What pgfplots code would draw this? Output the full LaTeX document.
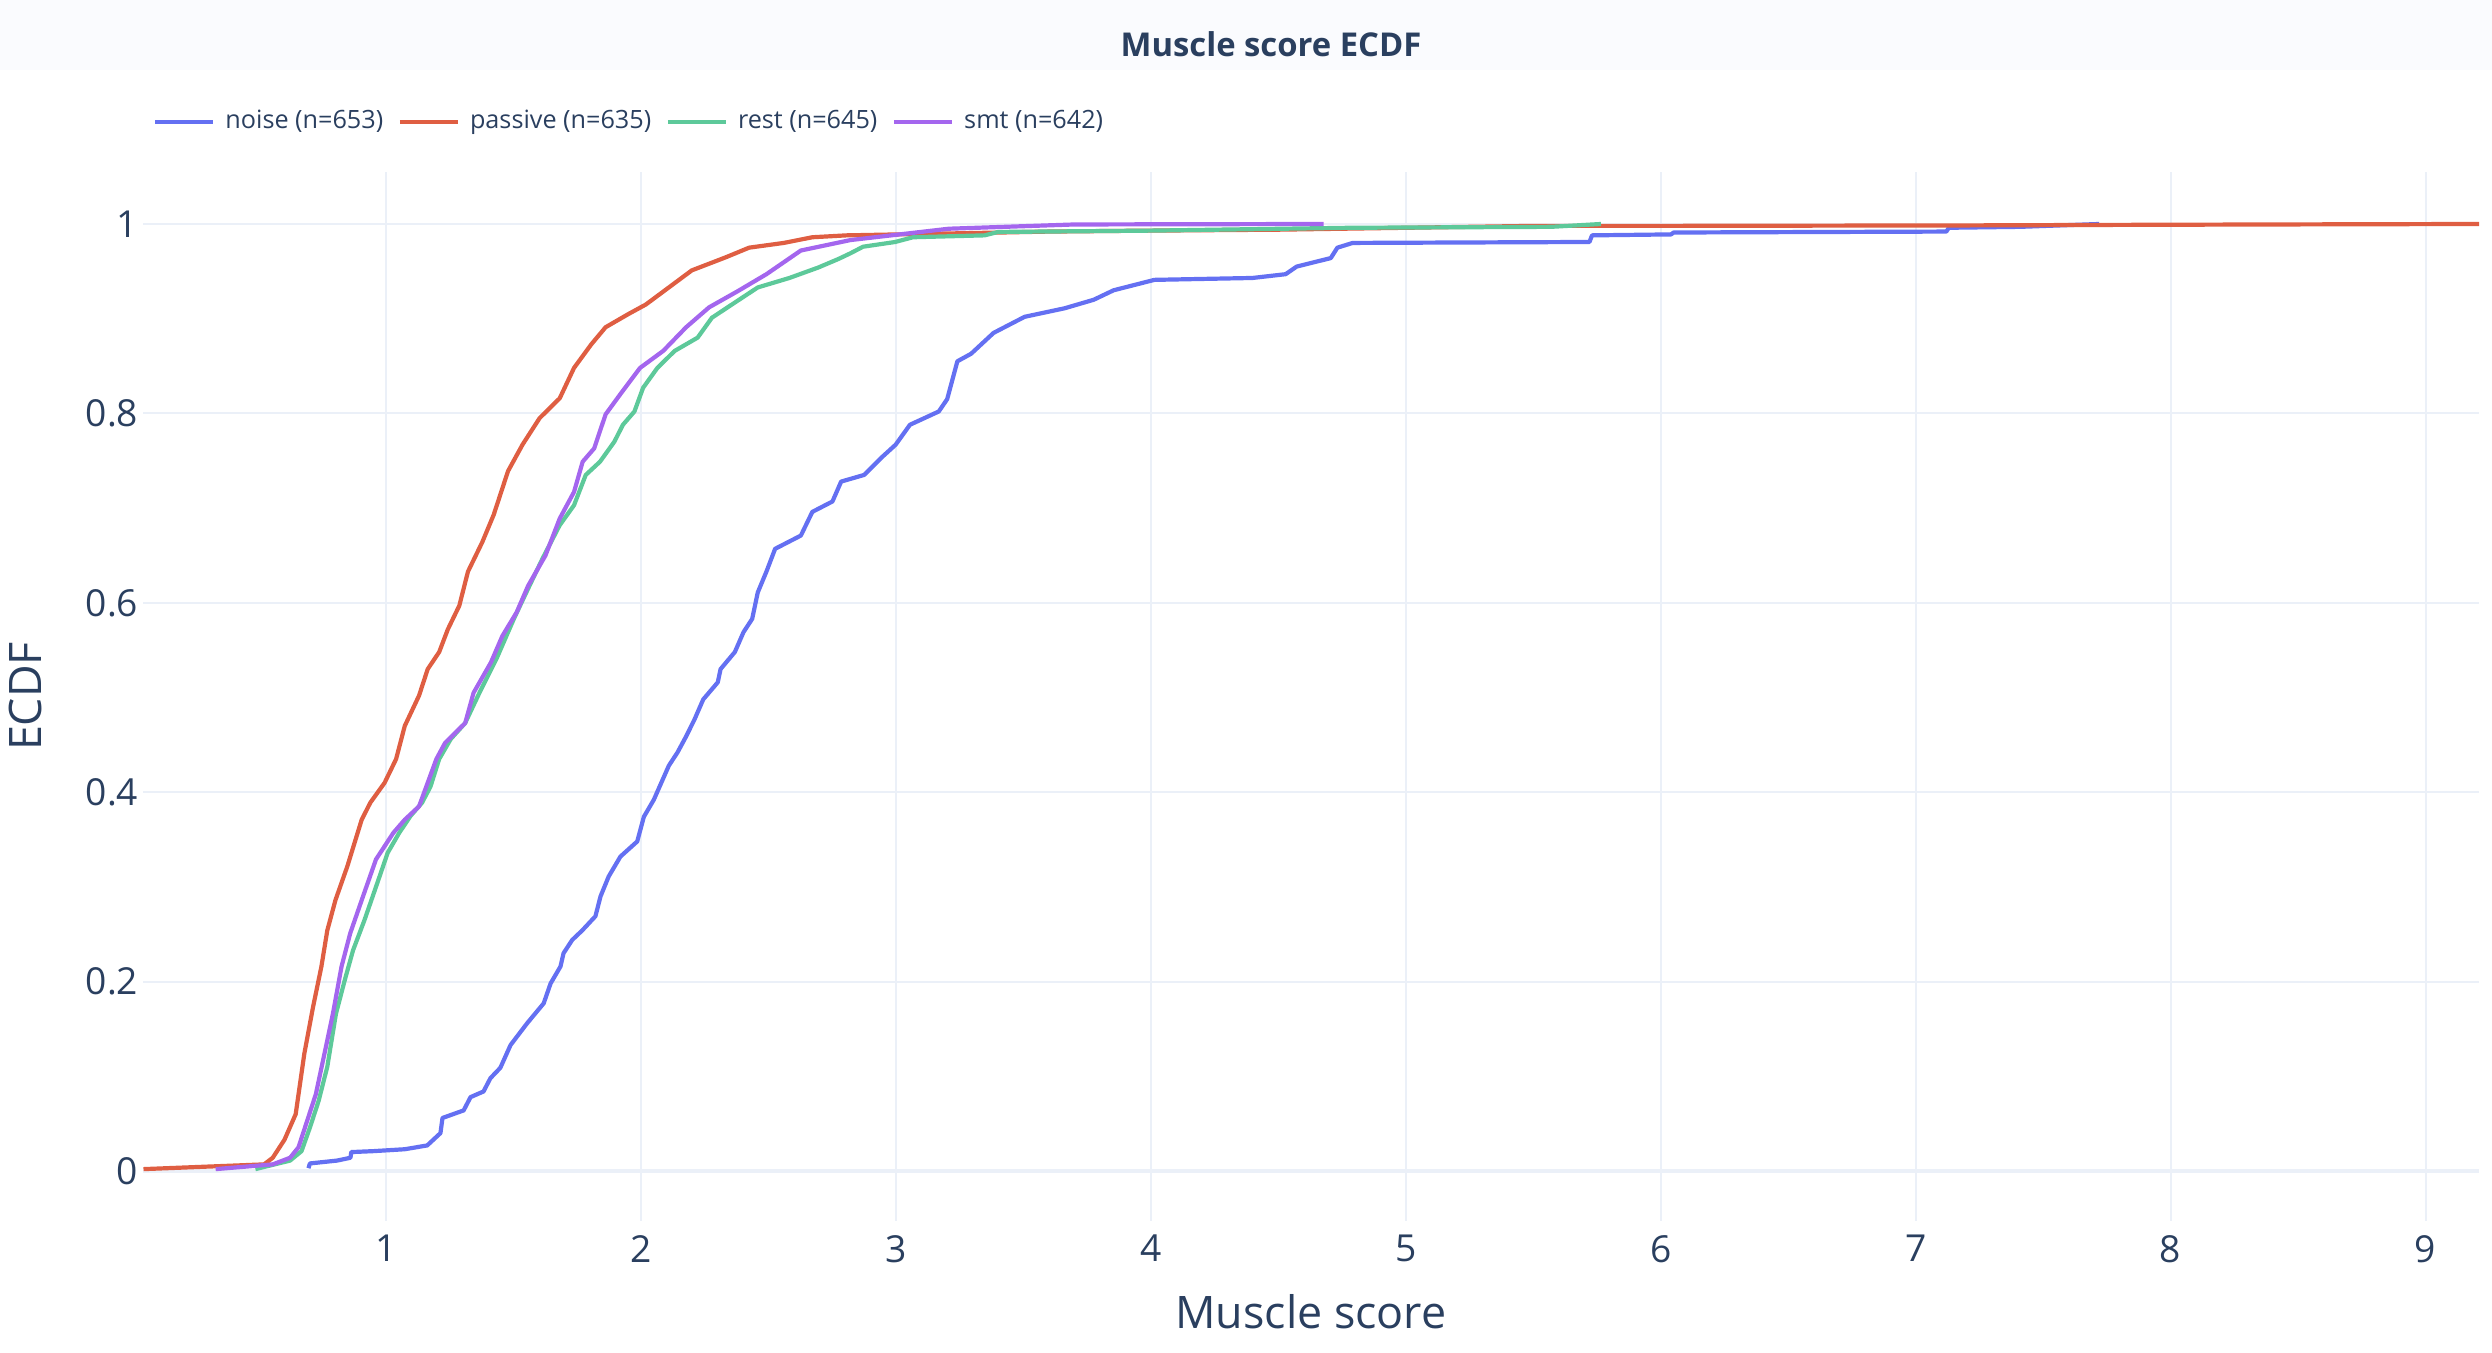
\documentclass[border=0pt]{standalone}
\usepackage{fontspec}
\setmainfont{Open Sans}
\usepackage{pgfplots}
\pgfplotsset{compat=1.18}
\definecolor{txt}{HTML}{2A3F5F}
\definecolor{grd}{HTML}{EBF0F8}
\definecolor{cnoise}{HTML}{6470F2}
\definecolor{cpassive}{HTML}{DF5E42}
\definecolor{crest}{HTML}{5DC99A}
\definecolor{csmt}{HTML}{A466EE}
\definecolor{band}{HTML}{FAFBFE}
\begin{document}
\begin{tikzpicture}
\path[use as bounding box] (0pt,0pt) rectangle (623pt,338pt);
\fill[band] (0pt,320.5pt) rectangle (623pt,338pt);
\node[font=\bfseries\fontsize{8.2}{9}\selectfont, text=txt] at (317.75pt,327pt) {Muscle score ECDF};
\begin{axis}[
  at={(35.75pt,32.75pt)}, anchor=south west, scale only axis,
  width=584pt, height=262.25pt,
  xmin=0.045, xmax=9.21, ymin=-0.0528, ymax=1.0549,
  xtick={1,2,3,4,5,6,7,8,9},
  ytick={0,0.2,0.4,0.6,0.8,1},
  yticklabels={0,0.2,0.4,0.6,0.8,1},
  axis line style={draw=none}, major tick length=0pt,
  grid=major, major grid style={grd, line width=0.5pt},
  extra y ticks={0}, extra y tick labels={},
  extra y tick style={major grid style={grd, line width=1.1pt}},
  /pgf/number format/assume math mode=true,
  tick label style={font=\fontsize{9.3}{10}\selectfont, text=txt},
  yticklabel style={inner xsep=1pt},
  xlabel={Muscle score}, ylabel={ECDF},
  label style={font=\fontsize{11.2}{12}\selectfont, text=txt},
  xlabel style={at={(axis description cs:0.5,-0.102)}, anchor=base},
  ylabel style={at={(axis description cs:-0.0505,0.5)}, anchor=center},
  legend style={at={(axis description cs:0.0043,1.0477)}, anchor=west, draw=none, fill=none,
    inner sep=0pt, outer sep=0pt, font=\fontsize{6.3}{7}\selectfont, text=txt,
    nodes={inner sep=0pt},
    /tikz/every odd column/.append style={column sep=2.5pt},
    /tikz/every even column/.append style={column sep=3.6pt}},
  legend columns=4,
  legend image code/.code={\draw[#1, line width=1.1pt] (0pt,0pt) -- (14.5pt,0pt);},
  every axis plot/.append style={line width=1.05pt, line join=round},
]
% noise
\addplot[cnoise] coordinates {
(0.694,0.003)(0.70,0.008)(0.806,0.011)(0.859,0.014)(0.862,0.02)(0.95,0.021)(1.072,0.023)(1.16,0.027)
(1.212,0.04)(1.22,0.056)(1.303,0.064)(1.33,0.078)(1.381,0.084)(1.408,0.098)(1.447,0.109)
(1.487,0.133)(1.552,0.156)(1.617,0.177)(1.644,0.198)(1.683,0.216)(1.695,0.23)(1.729,0.244)
(1.768,0.254)(1.82,0.269)(1.84,0.29)(1.872,0.311)(1.918,0.332)(1.984,0.348)(2.01,0.374)
(2.049,0.392)(2.108,0.428)(2.142,0.442)
(2.176,0.459)(2.209,0.477)(2.243,0.498)(2.30,0.516)(2.311,0.53)(2.367,0.548)(2.401,0.569)
(2.435,0.583)(2.457,0.611)(2.491,0.633)(2.525,0.657)(2.626,0.671)(2.671,0.696)(2.75,0.707)
(2.784,0.728)(2.874,0.735)(2.941,0.753)(2.998,0.767)(3.054,0.788)(3.167,0.802)(3.20,0.815)
(3.224,0.839)(3.24,0.855)(3.294,0.863)(3.382,0.885)(3.504,0.902)(3.661,0.911)(3.775,0.92)
(3.853,0.93)(4.013,0.941)(4.398,0.943)(4.528,0.947)(4.571,0.955)(4.705,0.964)(4.731,0.975)
(4.791,0.98)(5.72,0.981)(5.73,0.988)(6.04,0.989)(6.05,0.991)(7.12,0.992)
(7.13,0.996)(7.41,0.997)(7.72,1.0)
};
\addlegendentry{noise (n=653)}
% passive
\addplot[cpassive] coordinates {
(0.047,0.002)(0.52,0.007)(0.554,0.014)(0.60,0.033)(0.644,0.06)(0.678,0.124)(0.712,0.173)
(0.745,0.216)(0.768,0.254)(0.80,0.286)(0.847,0.322)(0.903,0.371)(0.937,0.389)(0.993,0.41)
(1.038,0.435)(1.072,0.47)(1.128,0.502)(1.162,0.53)(1.207,0.548)(1.241,0.572)(1.286,0.597)
(1.32,0.633)(1.376,0.664)(1.421,0.693)(1.477,0.739)(1.534,0.767)(1.601,0.795)(1.68,0.816)
(1.736,0.848)(1.804,0.873)(1.86,0.891)(1.95,0.905)(2.018,0.915)(2.108,0.933)(2.198,0.951)
(2.333,0.965)(2.423,0.975)(2.559,0.98)(2.671,0.986)(2.806,0.988)(3.41,0.991)(3.6,0.992)
(4.0,0.993)(4.5,0.994)(5.0,0.996)(5.5,0.998)(6.0,0.998)(7.2,0.9985)(7.72,0.999)(8.4,0.9995)(9.21,1.0)
};
\addlegendentry{passive (n=635)}
% rest
\addplot[crest] coordinates {
(0.486,0.002)(0.622,0.011)(0.667,0.021)(0.70,0.046)(0.734,0.074)(0.768,0.11)(0.802,0.166)
(0.836,0.201)(0.869,0.233)(0.914,0.265)(0.959,0.30)(1.005,0.336)(1.05,0.357)(1.095,0.375)
(1.14,0.389)(1.173,0.406)(1.207,0.435)(1.252,0.456)(1.309,0.473)(1.365,0.505)(1.432,0.541)
(1.50,0.583)(1.556,0.615)(1.613,0.647)(1.68,0.682)(1.736,0.703)(1.782,0.735)(1.838,0.749)
(1.894,0.77)(1.928,0.788)(1.973,0.802)(2.007,0.827)(2.063,0.848)(2.131,0.866)(2.221,0.88)
(2.277,0.901)(2.378,0.919)(2.457,0.933)(2.581,0.943)(2.694,0.954)(2.773,0.963)(2.82,0.969)
(2.87,0.976)(2.996,0.981)(3.066,0.986)(3.347,0.988)(3.40,0.9916)(4.0,0.993)(4.78,0.996)
(5.57,0.997)(5.765,1.0)
};
\addlegendentry{rest (n=645)}
% smt
\addplot[csmt] coordinates {
(0.33,0.002)(0.554,0.007)(0.622,0.014)(0.655,0.025)(0.689,0.053)(0.723,0.081)(0.757,0.124)
(0.79,0.166)(0.824,0.216)(0.858,0.251)(0.903,0.286)(0.959,0.329)(1.027,0.357)(1.072,0.371)
(1.128,0.385)(1.162,0.41)(1.196,0.435)(1.23,0.452)(1.309,0.473)(1.342,0.505)(1.41,0.537)
(1.455,0.565)(1.511,0.59)(1.556,0.618)(1.624,0.65)(1.68,0.689)(1.736,0.717)(1.77,0.749)
(1.815,0.763)(1.86,0.799)(1.917,0.82)(1.995,0.848)(2.086,0.866)(2.176,0.891)(2.266,0.912)
(2.378,0.929)(2.491,0.947)(2.626,0.972)(2.82,0.983)(3.206,0.995)(3.7,0.9995)(4.677,1.0)
};
\addlegendentry{smt (n=642)}
\end{axis}
\end{tikzpicture}
\end{document}
